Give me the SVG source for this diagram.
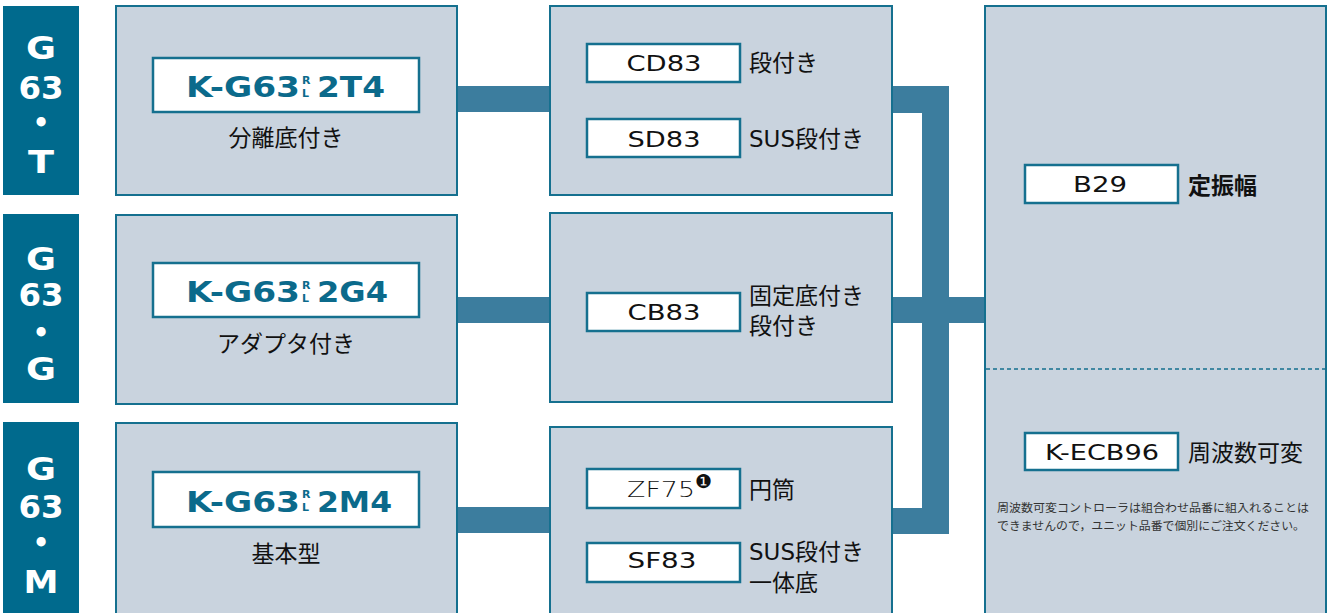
<svg xmlns="http://www.w3.org/2000/svg" width="1334" height="613" viewBox="0 0 1334 613">
<style>
.tag{fill:#006a8d}
.tagt{fill:#fff;font-family:"DejaVu Sans",sans-serif;font-weight:bold;font-size:32px;text-anchor:middle}
.dot{fill:#fff;font-family:"DejaVu Sans",sans-serif;font-weight:bold;font-size:26px;text-anchor:middle}
.box{fill:#c9d3de;stroke:#15708f;stroke-width:2}
.wb{fill:#fff;stroke:#15708f;stroke-width:2.5}
.code{fill:#0b6a8b;font-family:"DejaVu Sans",sans-serif;font-weight:bold;font-size:29px}
.sup{fill:#0b6a8b;font-family:"DejaVu Sans",sans-serif;font-weight:bold;font-size:11px}
.pc{fill:#111;font-family:"DejaVu Sans",sans-serif;font-size:22px;text-anchor:middle}
.lb{fill:#111;font-family:"DejaVu Sans","Noto Sans CJK JP",sans-serif;font-size:23px}
.sub{fill:#111;font-family:"Noto Sans CJK JP",sans-serif;font-size:23px;text-anchor:middle}
.note{fill:#333;font-family:"Noto Sans CJK JP",sans-serif;font-size:11.8px}
.con{fill:#3c7d9e}
</style>

<g id="connectors">
<rect class="con" x="456" y="86" width="95" height="26"/>
<rect class="con" x="456" y="297" width="95" height="26"/>
<rect class="con" x="456" y="507" width="95" height="26"/>
<rect class="con" x="891" y="86" width="58" height="27"/>
<rect class="con" x="891" y="297" width="95" height="26"/>
<rect class="con" x="891" y="508" width="58" height="26"/>
<rect class="con" x="922" y="86" width="27" height="448"/>
</g>

<g id="tag-T">
<rect class="tag" x="3" y="6" width="76" height="189"/>
<text class="tagt" x="41" y="59" textLength="30" lengthAdjust="spacingAndGlyphs">G</text>
<text class="tagt" x="41" y="99" textLength="45" lengthAdjust="spacingAndGlyphs">63</text>
<text class="dot" x="41" y="132">•</text>
<text class="tagt" x="41" y="173" textLength="26" lengthAdjust="spacingAndGlyphs">T</text>
</g>
<g id="tag-G">
<rect class="tag" x="3" y="214" width="76" height="189"/>
<text class="tagt" x="41" y="270" textLength="30" lengthAdjust="spacingAndGlyphs">G</text>
<text class="tagt" x="41" y="306" textLength="45" lengthAdjust="spacingAndGlyphs">63</text>
<text class="dot" x="41" y="342">•</text>
<text class="tagt" x="41" y="380" textLength="30" lengthAdjust="spacingAndGlyphs">G</text>
</g>
<g id="tag-M">
<rect class="tag" x="3" y="422" width="76" height="200"/>
<text class="tagt" x="41" y="480" textLength="30" lengthAdjust="spacingAndGlyphs">G</text>
<text class="tagt" x="41" y="518" textLength="45" lengthAdjust="spacingAndGlyphs">63</text>
<text class="dot" x="41" y="552">•</text>
<text class="tagt" x="41" y="593" textLength="35" lengthAdjust="spacingAndGlyphs">M</text>
</g>

<g id="body-T">
<rect class="box" x="116" y="6" width="341" height="189"/>
<rect class="wb" x="153" y="58" width="266" height="54"/>
<text class="code" x="186" y="97" textLength="114" lengthAdjust="spacingAndGlyphs">K-G63</text>
<text class="sup" x="302" y="84">R</text>
<text class="sup" x="302" y="97">L</text>
<text class="code" x="317" y="97" textLength="68" lengthAdjust="spacingAndGlyphs">2T4</text>
<text class="sub" x="286" y="146">分離底付き</text>
</g>
<g id="body-G">
<rect class="box" x="116" y="215" width="341" height="189"/>
<rect class="wb" x="153" y="263" width="266" height="54"/>
<text class="code" x="186" y="302" textLength="114" lengthAdjust="spacingAndGlyphs">K-G63</text>
<text class="sup" x="302" y="289">R</text>
<text class="sup" x="302" y="302">L</text>
<text class="code" x="317" y="302" textLength="71" lengthAdjust="spacingAndGlyphs">2G4</text>
<text class="sub" x="286" y="352">アダプタ付き</text>
</g>
<g id="body-M">
<rect class="box" x="116" y="423" width="341" height="200"/>
<rect class="wb" x="153" y="472" width="266" height="55"/>
<text class="code" x="186" y="512" textLength="114" lengthAdjust="spacingAndGlyphs">K-G63</text>
<text class="sup" x="302" y="498">R</text>
<text class="sup" x="302" y="511">L</text>
<text class="code" x="317" y="512" textLength="75" lengthAdjust="spacingAndGlyphs">2M4</text>
<text class="sub" x="286" y="562">基本型</text>
</g>

<g id="case-T">
<rect class="box" x="550" y="6" width="342" height="189"/>
<rect class="wb" x="587" y="44" width="153" height="38"/>
<text class="pc" x="664" y="71" textLength="75" lengthAdjust="spacingAndGlyphs">CD83</text>
<text class="lb" x="749" y="71">段付き</text>
<rect class="wb" x="587" y="119" width="153" height="38"/>
<text class="pc" x="664" y="147" textLength="73" lengthAdjust="spacingAndGlyphs">SD83</text>
<text class="lb" x="749" y="147">SUS段付き</text>
</g>
<g id="case-G">
<rect class="box" x="550" y="213" width="342" height="189"/>
<rect class="wb" x="587" y="293" width="153" height="38"/>
<text class="pc" x="664" y="320" textLength="73" lengthAdjust="spacingAndGlyphs">CB83</text>
<text class="lb" x="749" y="304">固定底付き</text>
<text class="lb" x="749" y="334">段付き</text>
</g>
<g id="case-M">
<rect class="box" x="550" y="427" width="342" height="196"/>
<rect class="wb" x="587" y="469" width="153" height="39"/>
<text class="pc" x="627" y="497" style="text-anchor:start;font-weight:300"><tspan textLength="68" lengthAdjust="spacingAndGlyphs">ZF75</tspan><tspan font-family="DejaVu Sans" font-size="19" dy="-9">❶</tspan></text>
<text class="lb" x="749" y="498">円筒</text>
<rect class="wb" x="587" y="543" width="153" height="39"/>
<text class="pc" x="662" y="568" textLength="69" lengthAdjust="spacingAndGlyphs">SF83</text>
<text class="lb" x="749" y="560">SUS段付き</text>
<text class="lb" x="749" y="591">一体底</text>
</g>

<g id="motor">
<rect class="box" x="985" y="6" width="341" height="617"/>
<line x1="986" y1="369" x2="1325" y2="369" stroke="#15708f" stroke-width="1.5" stroke-dasharray="4 3"/>
<rect class="wb" x="1025" y="165" width="153" height="38"/>
<text class="pc" x="1100" y="192" textLength="54" lengthAdjust="spacingAndGlyphs">B29</text>
<text class="lb" x="1188" y="194" font-weight="bold">定振幅</text>
<rect class="wb" x="1025" y="433" width="153" height="37"/>
<text class="pc" x="1102" y="460" textLength="114" lengthAdjust="spacingAndGlyphs">K-ECB96</text>
<text class="lb" x="1188" y="461">周波数可変</text>
<text class="note" x="997" y="512" textLength="312" lengthAdjust="spacingAndGlyphs">周波数可変コントローラは組合わせ品番に組入れることは</text>
<text class="note" x="997" y="530" textLength="308" lengthAdjust="spacingAndGlyphs">できませんので，ユニット品番で個別にご注文ください。</text>
</g>
</svg>
